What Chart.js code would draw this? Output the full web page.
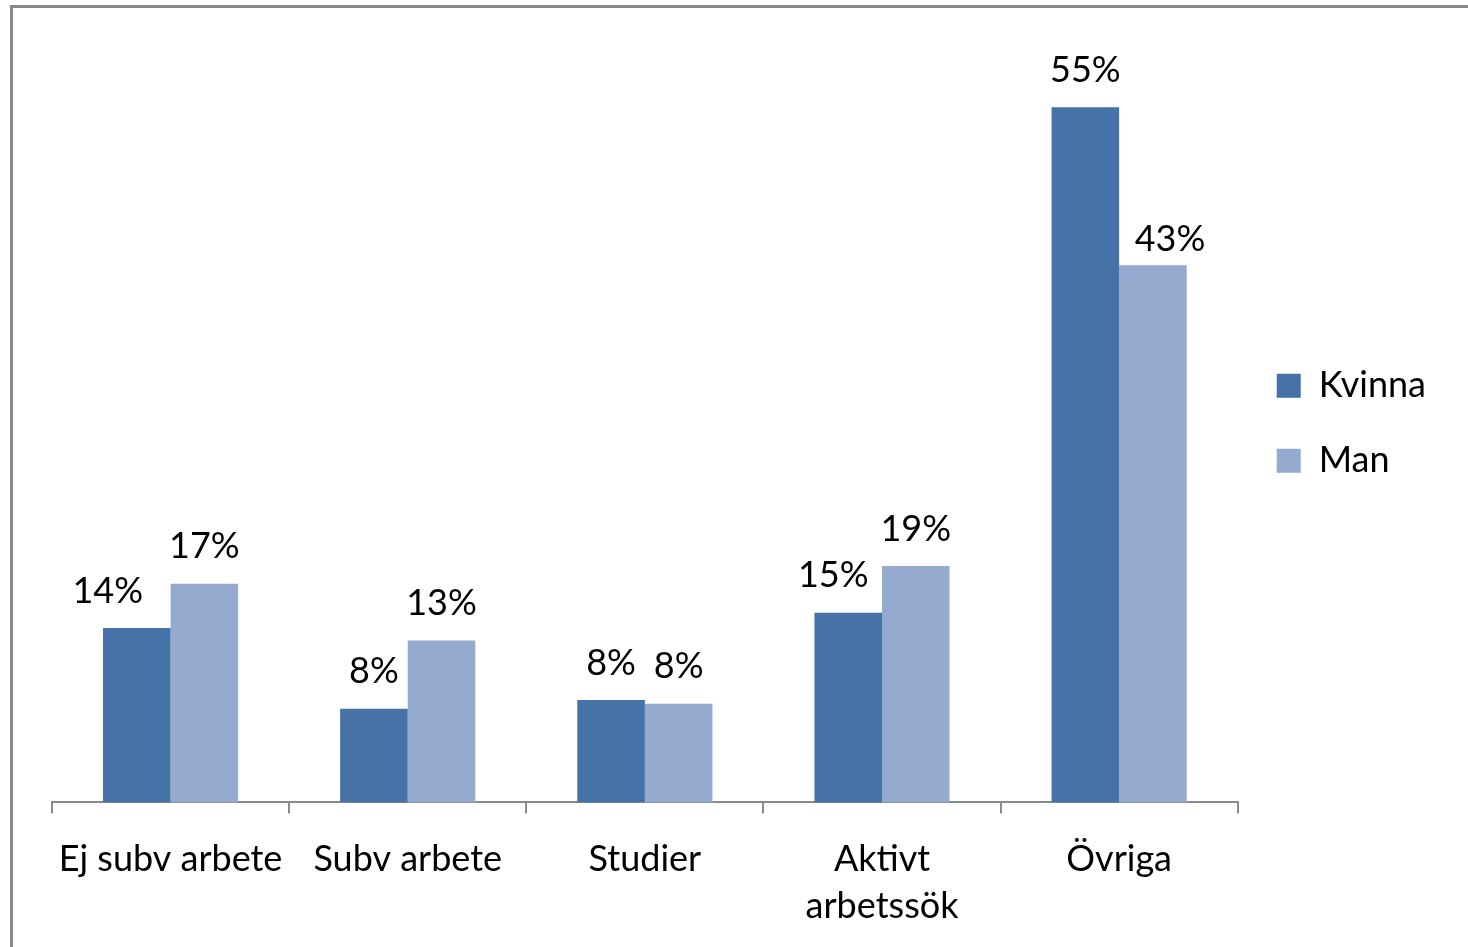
<!DOCTYPE html>
<html>
<head>
<meta charset="utf-8">
<script src="https://cdn.jsdelivr.net/npm/chart.js@4.4.1/dist/chart.umd.min.js"></script>
<style>
  html, body { margin: 0; padding: 0; background: #fff; }
  #wrap { position: relative; width: 1468px; height: 947px; overflow: hidden; }
  #frame { position: absolute; left: 10px; top: 5px; width: 1500px; height: 1000px;
           border-left: 3px solid #888; border-top: 3px solid #888; box-sizing: border-box; }
  canvas { position: absolute; left: 0; top: 0; }
</style>
</head>
<body>
<div id="wrap">
  <div id="frame"></div>
  <canvas id="c" width="1468" height="947"></canvas>
</div>
<script>
const categories = ['Ej subv arbete', 'Subv arbete', 'Studier', ['Aktivt', 'arbetssök'], 'Övriga'];
const seriesNames = ['Kvinna', 'Man'];
const kvinnaValues = [13.8, 7.4, 8.1, 15.0, 55.0];
const manValues = [17.3, 12.8, 7.8, 18.7, 42.5];
const kvinnaLabels = ['14%', '8%', '8%', '15%', '55%'];
const manLabels = ['17%', '13%', '8%', '19%', '43%'];

const FONT = 'Lato, Calibri, Carlito, sans-serif';

const barLabelPlugin = {
  id: 'barLabels',
  afterDatasetsDraw(chart, args, opts) {
    const ctx = chart.ctx;
    ctx.save();
    ctx.font = '36px ' + FONT;
    ctx.fillStyle = '#000';
    ctx.textAlign = 'center';
    ctx.textBaseline = 'middle';
    chart.data.datasets.forEach((ds, di) => {
      const meta = chart.getDatasetMeta(di);
      meta.data.forEach((bar, i) => {
        const nudge = (opts.nudgeX[di] || [])[i] || 0;
        const dy = (opts.nudgeY[di] || [])[i] || 0;
        ctx.fillText(ds.pointLabels[i], bar.x + nudge, bar.y - 37 + dy);
      });
    });
    ctx.restore();
  }
};

new Chart(document.getElementById('c'), {
  type: 'bar',
  data: {
    labels: categories,
    datasets: [
      { label: seriesNames[0], data: kvinnaValues, pointLabels: kvinnaLabels,
        backgroundColor: '#4572A7', borderWidth: 0,
        categoryPercentage: 0.57, barPercentage: 1.0 },
      { label: seriesNames[1], data: manValues, pointLabels: manLabels,
        backgroundColor: '#95AACF', borderWidth: 0,
        categoryPercentage: 0.57, barPercentage: 1.0 }
    ]
  },
  options: {
    responsive: false,
    animation: false,
    devicePixelRatio: 1,
    layout: { padding: { left: 52, top: 44, right: 32, bottom: -6 } },
    scales: {
      x: {
        offset: true,
        grid: { display: true, offset: true, drawOnChartArea: false, drawTicks: true,
                tickLength: 11, color: '#8a8a8a', lineWidth: 2 },
        border: { display: true, color: '#8a8a8a', width: 2 },
        ticks: { color: '#000', font: { family: FONT, size: 36, lineHeight: 1.3 }, padding: 23,
                 maxRotation: 0, autoSkip: false }
      },
      y: {
        display: false,
        min: 0, max: 60
      }
    },
    plugins: {
      legend: {
        position: 'right',
        align: 'center',
        fullSize: false,
        labels: {
          boxWidth: 24, boxHeight: 24, padding: 39, color: '#000',
          font: { family: FONT, size: 36 }
        }
      },
      tooltip: { enabled: false },
      barLabels: {
        nudgeX: [[-29, 0, 0, -15, 0], [0, 0, 0, 0, 17]],
        nudgeY: [[0, 0, 0, 0, 0], [0, 0, 0, 0, 11]]
      }
    }
  },
  plugins: [barLabelPlugin]
});
</script>
</body>
</html>
